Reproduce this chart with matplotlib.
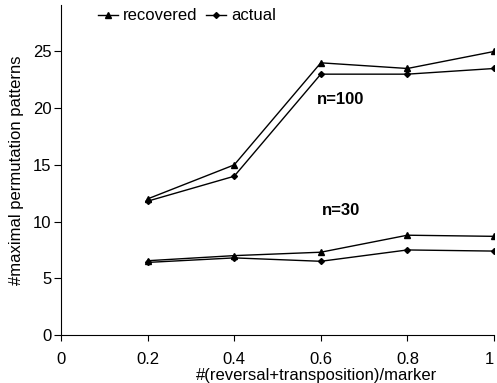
import matplotlib
matplotlib.use("Agg")
import matplotlib.pyplot as plt

plt.rcParams['font.family'] = ['Liberation Sans', 'DejaVu Sans']

x = [0.2, 0.4, 0.6, 0.8, 1.0]
rec100 = [12.0, 15.0, 24.0, 23.5, 25.0]
act100 = [11.8, 14.0, 23.0, 23.0, 23.5]
rec30 = [6.55, 7.0, 7.3, 8.8, 8.7]
act30 = [6.4, 6.8, 6.5, 7.5, 7.4]
xticks = [0, 0.2, 0.4, 0.6, 0.8, 1]
xticklabels = ['0', '0.2', '0.4', '0.6', '0.8', '1']
yticks = [0, 5, 10, 15, 20, 25]

fig = plt.figure(figsize=(4.97, 3.83), dpi=100)
ax = fig.add_axes([0.1227, 0.1253, 0.8713, 0.8617])

kw = dict(color='black', linewidth=1.0)
l1, = ax.plot(x, rec100, marker='^', markersize=4, label='recovered', **kw)
l2, = ax.plot(x, act100, marker='D', markersize=3, label='actual', **kw)
ax.plot(x, rec30, marker='^', markersize=4, **kw)
ax.plot(x, act30, marker='D', markersize=3, **kw)

ax.set_xlim(0, 1)
ax.set_ylim(0, 29.1)
ax.set_xticks(xticks)
ax.set_xticklabels(xticklabels)
ax.set_yticks(yticks)
ax.spines['top'].set_visible(False)
ax.spines['right'].set_visible(False)
ax.tick_params(axis='x', direction='out', length=4, pad=8, labelsize=12)
ax.tick_params(axis='y', direction='out', length=5, pad=2, labelsize=12)
ax.get_xticklabels()[-1].set_horizontalalignment('right')

ax.set_ylabel('#maximal permutation patterns', fontsize=12, labelpad=6)
ax.set_xlabel('#(reversal+transposition)/marker', fontsize=12)
ax.xaxis.set_label_coords(0.59, -0.1)

ax.text(0.59, 20.8, 'n=100', fontsize=12, fontweight='bold', ha='left', va='center')
ax.text(0.602, 10.95, 'n=30', fontsize=12, fontweight='bold', ha='left', va='center')

ax.legend(handles=[l1, l2], loc='upper left', bbox_to_anchor=(0.07, 1.01), ncol=2,
          frameon=False, fontsize=12, handlelength=1.2, handletextpad=0.3,
          columnspacing=0.5, borderaxespad=0)

fig.savefig('out.png', dpi=100)
